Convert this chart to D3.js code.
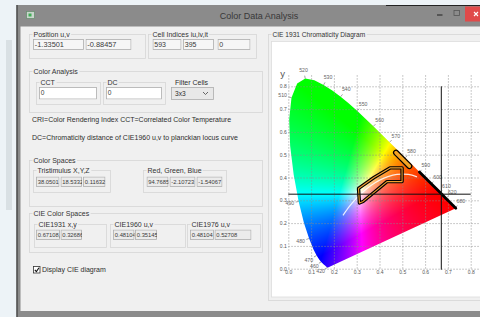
<!DOCTYPE html>
<html>
<head>
<meta charset="utf-8">
<script src="https://cdn.jsdelivr.net/npm/d3@7"></script>
<style>
  body { margin: 0; background: #edf3f7; overflow: hidden; }
  svg { display: block; font-family: "Liberation Sans", Arial, sans-serif; }
</style>
</head>
<body>
<svg id="app" width="480" height="317"></svg>
<script>
// spectral locus, CIE 1931 2deg
const locusNm = [380,385,390,395,400,405,410,415,420,425,430,435,440,445,450,455,460,465,470,475,480,485,490,495,500,505,510,515,520,525,530,535,540,545,550,555,560,565,570,575,580,585,590,595,600,605,610,615,620,625,630,635,640,645,650,660,670,680,690,700];
const locusX = [0.1741,0.1740,0.1738,0.1736,0.1733,0.1730,0.1726,0.1721,0.1714,0.1703,0.1689,0.1669,0.1644,0.1611,0.1566,0.1510,0.1440,0.1355,0.1241,0.1096,0.0913,0.0687,0.0454,0.0235,0.0082,0.0039,0.0139,0.0389,0.0743,0.1142,0.1547,0.1929,0.2296,0.2658,0.3016,0.3373,0.3731,0.4087,0.4441,0.4788,0.5125,0.5448,0.5752,0.6029,0.6270,0.6482,0.6658,0.6801,0.6915,0.7006,0.7079,0.7140,0.7190,0.7230,0.7260,0.7300,0.7320,0.7334,0.7344,0.7347];
const locusY = [0.0050,0.0050,0.0049,0.0049,0.0048,0.0048,0.0048,0.0048,0.0051,0.0058,0.0069,0.0086,0.0109,0.0138,0.0177,0.0227,0.0297,0.0399,0.0578,0.0868,0.1327,0.2007,0.2950,0.4127,0.5384,0.6548,0.7502,0.8120,0.8338,0.8262,0.8059,0.7816,0.7543,0.7243,0.6923,0.6589,0.6245,0.5896,0.5547,0.5202,0.4866,0.4544,0.4242,0.3965,0.3725,0.3514,0.3340,0.3197,0.3083,0.2993,0.2920,0.2859,0.2809,0.2770,0.2740,0.2700,0.2680,0.2666,0.2656,0.2653];
const labelNm = [420,460,470,480,490,510,520,530,540,550,560,570,580,590,600,610,620,680];
const ticks = [0,0.1,0.2,0.3,0.4,0.5,0.6,0.7,0.8];

// planckian locus (white curve)
const planckX = [0.5646,0.5267,0.4770,0.4369,0.4053,0.3805,0.3451,0.3221,0.3064,0.2952,0.2807,0.2637,0.2525,0.2399];
const planckY = [0.4029,0.4133,0.4137,0.4041,0.3907,0.3768,0.3516,0.3318,0.3166,0.3048,0.2884,0.2674,0.2522,0.2342];

// selected region outline + small bar
const regionX = [0.308,0.376,0.446,0.499,0.499,0.433,0.328,0.312];
const regionY = [0.352,0.400,0.442,0.442,0.382,0.382,0.295,0.288];
const barX = [0.4724,0.531];
const barY = [0.509,0.450];
const edgeFromNm = 590;

// current point (CIE1931 x,y)
const pointX = 0.67108, pointY = 0.32686;

const svg = d3.select("#app");

// ---------- window chrome ----------
svg.append("rect").attr("x",0).attr("y",0).attr("width",480).attr("height",317).attr("fill","#edf3f7");
svg.append("rect").attr("x",6).attr("y",40).attr("width",6).attr("height",170).attr("fill","#d9e0e4");
svg.append("rect").attr("x",16.5).attr("y",5).attr("width",464).attr("height",312).attr("fill","#8b8b8b");
svg.append("line").attr("x1",17).attr("x2",17).attr("y1",5).attr("y2",317).attr("stroke","#3c3c3c").attr("stroke-width",1.2);
svg.append("line").attr("x1",386).attr("x2",480).attr("y1",5.5).attr("y2",5.5).attr("stroke","#222").attr("stroke-width",1);
svg.append("rect").attr("x",20.5).attr("y",26.5).attr("width",460).attr("height",284.5).attr("fill","#f0f0f0");

// title
svg.append("rect").attr("x",26.5).attr("y",11.5).attr("width",8).attr("height",7).attr("fill","#c9d6cc").attr("stroke","#6b8f72").attr("stroke-width",0.8);
svg.append("rect").attr("x",28.5).attr("y",13.5).attr("width",3).attr("height",3).attr("fill","#3fae55");
svg.append("text").attr("x",259).attr("y",18.5).attr("text-anchor","middle")
  .attr("font-size",9).attr("fill","#383838").text("Color Data Analysis");
svg.append("line").attr("x1",437).attr("x2",442.5).attr("y1",15).attr("y2",15).attr("stroke","#333").attr("stroke-width",1.2);
svg.append("rect").attr("x",454).attr("y",10.5).attr("width",5.5).attr("height",5).attr("fill","none").attr("stroke","#555").attr("stroke-width",0.8);
svg.append("rect").attr("x",465).attr("y",6.5).attr("width",16).attr("height",15).attr("fill","#e04a4a");
svg.append("path").attr("d","M474,12 L478,16 M478,12 L474,16").attr("stroke","#fff").attr("stroke-width",1.1);

// ---------- left panel controls ----------
function groupBox(x, y, w, h, label, size) {
  svg.append("rect").attr("x",x+0.5).attr("y",y+0.5).attr("width",w).attr("height",h)
    .attr("fill","none").attr("stroke","#d6d6d6").attr("stroke-width",0.8);
  if (label) {
    const t = svg.append("text").attr("x",x+4.5).attr("y",y+2.8)
      .attr("font-size",size || 7).attr("fill","#333").text(label);
    const bb = t.node().getBBox();
    svg.insert("rect", () => t.node()).attr("x",bb.x-1).attr("y",bb.y).attr("width",bb.width+2).attr("height",bb.height).attr("fill","#f0f0f0");
  }
}
function textBox(x, y, w, h, txt, fill, size) {
  const g = svg.append("svg").attr("x",x).attr("y",y).attr("width",w).attr("height",h);
  g.append("rect").attr("x",0.5).attr("y",0.5).attr("width",w-1).attr("height",h-1)
    .attr("fill",fill).attr("stroke","#adadad").attr("stroke-width",0.8);
  g.append("text").attr("x",1.8).attr("y",h/2+2.2).attr("font-size",size || 6.6).attr("fill","#3a3a3a").text(txt);
}
function label(x, y, txt, size) {
  svg.append("text").attr("x",x).attr("y",y).attr("font-size",size || 7).attr("fill","#2e2e2e").text(txt);
}

groupBox(29, 34, 116, 24, "Position u,v");
textBox(33, 39, 51, 11, "-1.33501", "#f6f6f6", 7.4);
textBox(85.5, 39, 46, 11, "-0.88457", "#f6f6f6", 7.4);
groupBox(148, 34, 108, 24, "Cell Indices iu,iv,it");
textBox(152.5, 39, 29, 11, "593", "#f6f6f6", 7);
textBox(183, 39, 31, 11, "395", "#f6f6f6", 7);
textBox(217.5, 39, 33, 11, "0", "#f6f6f6", 7);

groupBox(29, 71, 233, 41, "Color Analysis");
groupBox(36, 82, 64, 22, "CCT");
textBox(39, 87, 58, 12.5, "0", "#ffffff", 6.6);
groupBox(103, 82, 62, 22, "DC");
textBox(106, 87, 56, 12.5, "0", "#ffffff", 6.6);
label(175, 84.5, "Filter Cells");
svg.append("rect").attr("x",171.5).attr("y",87.5).attr("width",42).attr("height",12).attr("fill","#e8e8e8").attr("stroke","#acacac").attr("stroke-width",0.8);
label(175, 96, "3x3", 6.6);
svg.append("path").attr("d","M203,92 L205.5,94.5 L208,92").attr("fill","none").attr("stroke","#444").attr("stroke-width",0.8);

label(32, 121.5, "CRI=Color Rendering Index  CCT=Correlated Color Temperature");
label(32, 139.5, "DC=Chromaticity distance of CIE1960 u,v to planckian locus curve");

groupBox(29, 160, 233, 46, "Color Spaces");
groupBox(33, 170, 77, 22, "Tristimulus X,Y,Z");
textBox(36, 176.5, 23.5, 10.5, "38.0501", "#ebebeb", 5.8);
textBox(60.5, 176.5, 21.5, 10.5, "18.5332", "#ebebeb", 5.8);
textBox(83, 176.5, 22.5, 10.5, "0.11632", "#ebebeb", 5.8);
groupBox(143, 170, 83, 22, "Red, Green, Blue");
textBox(146.5, 176.5, 22, 10.5, "94.7685", "#ebebeb", 5.8);
textBox(169.5, 176.5, 26, 10.5, "-2.10723", "#ebebeb", 5.8);
textBox(196.5, 176.5, 26, 10.5, "-1.54067", "#ebebeb", 5.8);

groupBox(29, 213, 233, 39, "CIE Color Spaces");
groupBox(34, 224, 72, 23, "CIE1931 x,y");
textBox(36, 229.5, 24, 10.5, "0.67108,", "#ebebeb", 5.8);
textBox(60.5, 229.5, 21.5, 10.5, "0.32686", "#ebebeb", 5.8);
groupBox(110, 224, 75, 23, "CIE1960 u,v");
textBox(113, 229.5, 21.5, 10.5, "0.48104", "#ebebeb", 5.8);
textBox(135, 229.5, 22, 10.5, "0.35145", "#ebebeb", 5.8);
groupBox(187, 224, 73, 23, "CIE1976 u,v");
textBox(190, 229.5, 24, 10.5, "0.48104", "#ebebeb", 5.8);
textBox(214.5, 229.5, 37, 10.5, "0.52708", "#ebebeb", 5.8);

svg.append("rect").attr("x",33.5).attr("y",266.5).attr("width",6.5).attr("height",6.5).attr("fill","#fff").attr("stroke","#333").attr("stroke-width",0.8);
svg.append("path").attr("d","M34.8,269.8 L36.4,271.6 L39,267.8").attr("fill","none").attr("stroke","#111").attr("stroke-width",1.1);
label(42, 272, "Display CIE diagram");

// ---------- chart panel ----------
groupBox(268, 34, 215, 266, "CIE 1931 Chromaticity Diagram", 6.6);
svg.append("rect").attr("x",271.5).attr("y",41.5).attr("width",210).attr("height",255.5)
  .attr("fill","#ffffff").attr("stroke","#dcdcdc").attr("stroke-width",0.8);

const x = d3.scaleLinear().domain([0, 0.8]).range([288.3, 470.7]);
const y = d3.scaleLinear().domain([0, 0.8]).range([268.7, 86.3]);

const locus = locusNm.map((nm, i) => ({ nm: nm, x: locusX[i], y: locusY[i] }));
const line = d3.line().x(d => x(d.x)).y(d => y(d.y));

// colour fill: xy -> linear RGB, normalised to the brightest channel
function xyColor(cx, cy) {
  const X = cx / cy, Y = 1, Z = (1 - cx - cy) / cy;
  let r = 3.2406 * X - 1.5372 * Y - 0.4986 * Z;
  let g = -0.9689 * X + 1.8758 * Y + 0.0415 * Z;
  let b = 0.0557 * X - 0.2040 * Y + 1.0570 * Z;
  r = Math.max(0, r); g = Math.max(0, g); b = Math.max(0, b);
  const m = Math.max(r, g, b) || 1;
  const gam = v => 255 * Math.pow(v / m, 0.88);
  return [gam(r), gam(g), gam(b)];
}
const x0 = Math.floor(x(0)), x1 = Math.ceil(x(0.75)), y0 = Math.floor(y(0.85)), y1 = Math.ceil(y(0));
const cw = x1 - x0, ch = y1 - y0;
const canvas = document.createElement("canvas");
canvas.width = cw; canvas.height = ch;
const ctx = canvas.getContext("2d");
const img = ctx.createImageData(cw, ch);
for (let j = 0; j < ch; j++) {
  for (let i = 0; i < cw; i++) {
    const cx = x.invert(x0 + i + 0.5), cy = Math.max(0.002, y.invert(y0 + j + 0.5));
    const c = xyColor(Math.max(0.001, cx), cy);
    const k = (j * cw + i) * 4;
    img.data[k] = c[0]; img.data[k + 1] = c[1]; img.data[k + 2] = c[2]; img.data[k + 3] = 255;
  }
}
ctx.putImageData(img, 0, 0);

svg.append("clipPath").attr("id","locusClip").append("path").attr("d", line(locus) + "Z");
svg.append("image").attr("x",x0).attr("y",y0).attr("width",cw).attr("height",ch)
  .attr("preserveAspectRatio","none")
  .attr("href", canvas.toDataURL()).attr("clip-path","url(#locusClip)");

// grid + tick labels
const gx = svg.append("g").attr("transform",`translate(0,${y(0)})`)
  .call(d3.axisBottom(x).tickValues(ticks).tickFormat(d3.format(".1f"))
    .tickSize(-(y(0) - y(0.85))).tickPadding(2));
const gy = svg.append("g").attr("transform",`translate(${x(0)},0)`)
  .call(d3.axisLeft(y).tickValues(ticks).tickFormat(d3.format(".1f"))
    .tickSize(-(x(0.9) - x(0))).tickPadding(1.5));
[gx, gy].forEach(g => {
  g.select(".domain").remove();
  g.selectAll(".tick line").attr("stroke","#8a8a8a").attr("stroke-opacity",0.75)
    .attr("stroke-dasharray","1.5,1.5").attr("stroke-width",0.8);
  g.selectAll(".tick text").attr("font-size",5).attr("fill","#555")
    .attr("font-family","Liberation Sans, Arial, sans-serif");
});
svg.append("text").attr("x",282.5).attr("y",76.5).attr("text-anchor","middle")
  .attr("font-size",9.5).attr("fill","#555").text("y");

// wavelength labels along the outward normal
labelNm.forEach(nm => {
  const i = locusNm.indexOf(nm);
  const a = locus[Math.max(0, i - 1)], b = locus[Math.min(locus.length - 1, i + 1)];
  let tx = x(b.x) - x(a.x), ty = y(b.y) - y(a.y);
  const len = Math.hypot(tx, ty) || 1;
  tx /= len; ty /= len;
  let nx = ty, ny = -tx;
  if (nm <= 460 || nm >= 680) { nx = nm >= 680 ? 0.6 : -0.75; ny = nm >= 680 ? -0.8 : 0.45; }
  const px = x(locus[i].x), py = y(locus[i].y);
  svg.append("line").attr("x1",px).attr("y1",py).attr("x2",px + nx * 3).attr("y2",py + ny * 3)
    .attr("stroke","#666").attr("stroke-width",0.6);
  svg.append("text").attr("x",px + nx * 9).attr("y",py + ny * 9 + 1.8)
    .attr("text-anchor","middle").attr("font-size",5.2).attr("fill","#666").text(nm);
});

// planckian locus
svg.append("path").attr("d", d3.line().curve(d3.curveCatmullRom)
    .x((d, i) => x(planckX[i])).y((d, i) => y(planckY[i]))(planckX))
  .attr("fill","none").attr("stroke","#fff").attr("stroke-opacity",0.85).attr("stroke-width",1.2);

// highlighted locus edge
svg.append("path").attr("d", line(locus.filter(d => d.nm >= edgeFromNm)))
  .attr("fill","none").attr("stroke","#000").attr("stroke-width",2.8).attr("stroke-linecap","round");

// selected region outline
const regionPath = d3.line().x((d, i) => x(regionX[i])).y((d, i) => y(regionY[i]))(regionX) + "Z";
svg.append("path").attr("d", regionPath).attr("fill","none").attr("stroke","#000")
  .attr("stroke-width",3.4).attr("stroke-linejoin","round");
svg.append("path").attr("d", regionPath).attr("fill","none").attr("stroke","#f0a030")
  .attr("stroke-width",1.1).attr("stroke-linejoin","round");

const barPath = d3.line().x((d, i) => x(barX[i])).y((d, i) => y(barY[i]))(barX);
svg.append("path").attr("d", barPath).attr("stroke","#000").attr("stroke-width",6).attr("stroke-linecap","round");
svg.append("path").attr("d", barPath).attr("stroke","#f4a323").attr("stroke-width",3.6).attr("stroke-linecap","round");

// crosshair at current point
svg.append("line").attr("x1",x(pointX)).attr("x2",x(pointX)).attr("y1",y(0.8)).attr("y2",y(0) + 1)
  .attr("stroke","#111").attr("stroke-width",1);
svg.append("line").attr("x1",x(0)).attr("x2",x(0.8)).attr("y1",y(pointY)).attr("y2",y(pointY))
  .attr("stroke","#111").attr("stroke-width",1);
</script>
</body>
</html>
